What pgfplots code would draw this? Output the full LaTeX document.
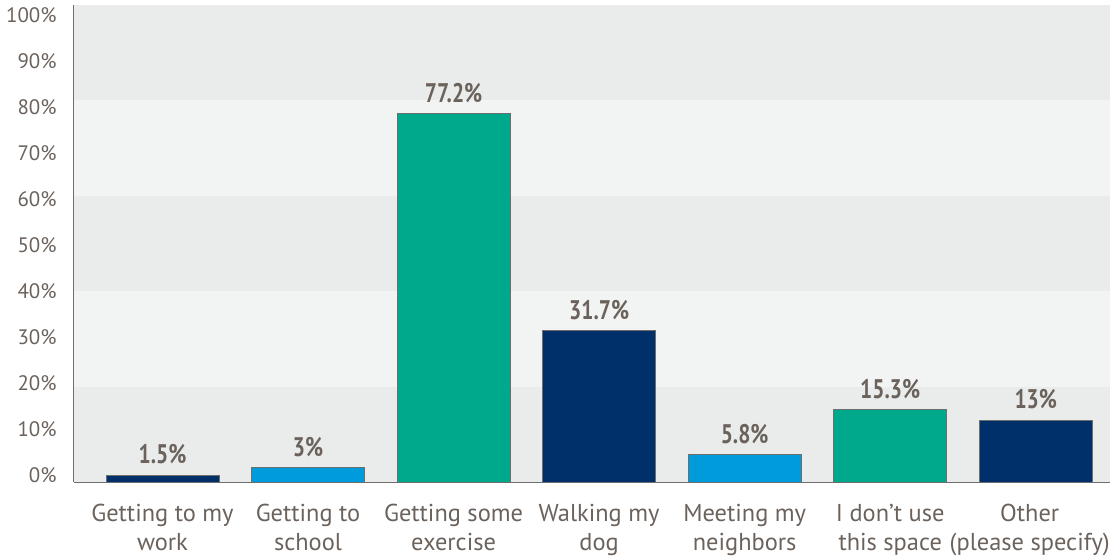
\documentclass[border=0pt]{standalone}
\usepackage{pgfplots}
\pgfplotsset{compat=1.18}
\usepackage{fontspec}
\setmainfont{PT Sans}
\newfontfamily\valfont[FakeStretch=0.8]{PT Sans}
\definecolor{navy}{HTML}{00306A}
\definecolor{sky}{HTML}{009BDB}
\definecolor{teal}{HTML}{00A98B}
\definecolor{txt}{HTML}{6B625C}
\definecolor{bandA}{HTML}{E9ECEB}
\definecolor{bandB}{HTML}{F2F4F3}
\definecolor{axgray}{HTML}{6E6E6E}
\begin{document}
\begin{tikzpicture}
\begin{axis}[
  scale only axis,
  width=1036bp, height=477bp,
  at={(0,0)}, anchor=south west,
  xmin=-0.608, xmax=6.51,
  ymin=0, ymax=100,
  axis x line*=bottom, axis y line*=left,
  axis line style={axgray, line width=1.6pt, -},
  major tick length=0pt,
  xtick={0,...,6},
  xticklabels={{Getting to my\\work},{Getting to\\school},{Getting some\\exercise},{Walking my\\dog},{Meeting my\\neighbors},{I don’t use\\this space},{\hspace*{-12bp}Other\\\hspace*{-12bp}(please specify)}},
  xticklabel style={align=center, font=\fontsize{24.5}{29}\selectfont, text=txt, yshift=-19bp},
  ytick={0,10,...,100},
  yticklabel={\pgfmathparse{-0.4-0.175*\tick}\smash{\raisebox{\pgfmathresult bp}{\pgfmathprintnumber{\tick}\%}}},
  /pgf/number format/assume math mode=true,
  yticklabel style={font=\fontsize{21}{24}\selectfont, text=txt, xshift=-14bp},
  ybar, bar width=0.776, bar shift=0pt,
  nodes near coords={\pgfmathprintnumber{\pgfplotspointmeta}\%},
  nodes near coords style={font=\valfont\bfseries\fontsize{27}{29}\selectfont, text=txt, yshift=7bp},
  every node near coord/.append style={/pgf/number format/assume math mode=true},
  clip=false,
]
\fill[bandA] (rel axis cs:0,0) rectangle (rel axis cs:1,0.2);
\fill[bandB] (rel axis cs:0,0.2) rectangle (rel axis cs:1,0.4);
\fill[bandA] (rel axis cs:0,0.4) rectangle (rel axis cs:1,0.6);
\fill[bandB] (rel axis cs:0,0.6) rectangle (rel axis cs:1,0.8);
\fill[bandA] (rel axis cs:0,0.8) rectangle (rel axis cs:1,1);
\addplot[fill=navy, draw=axgray, line width=0.6pt] coordinates {(0,1.5)};
\addplot[fill=sky, draw=axgray, line width=0.6pt] coordinates {(1,3)};
\addplot[fill=teal, draw=axgray, line width=0.6pt] coordinates {(2,77.2)};
\addplot[fill=navy, draw=axgray, line width=0.6pt] coordinates {(3,31.7)};
\addplot[fill=sky, draw=axgray, line width=0.6pt] coordinates {(4,5.8)};
\addplot[fill=teal, draw=axgray, line width=0.6pt] coordinates {(5,15.3)};
\addplot[fill=navy, draw=axgray, line width=0.6pt] coordinates {(6,13)};
\end{axis}
\pgfresetboundingbox
\path (-74bp,-77bp) rectangle (1036bp,482bp);
\end{tikzpicture}
\end{document}
